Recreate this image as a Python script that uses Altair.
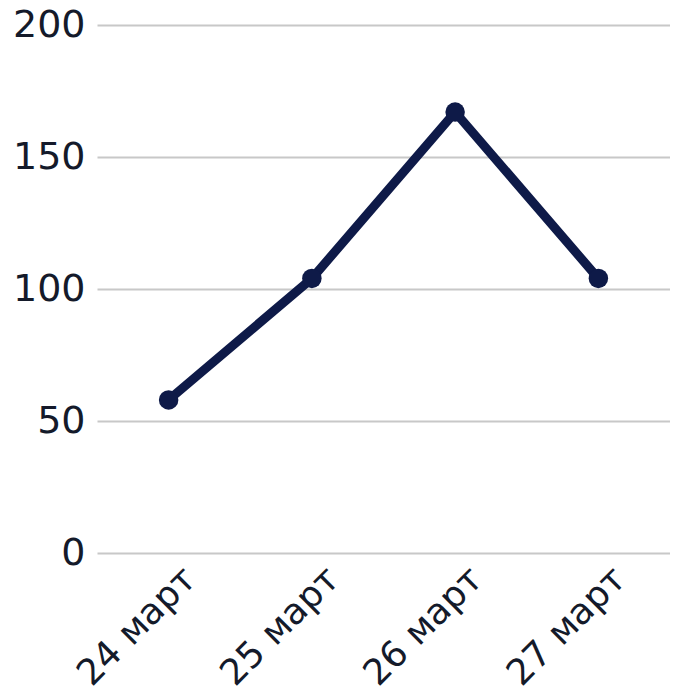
import altair as alt
import pandas as pd

dates = ["24 март", "25 март", "26 март", "27 март"]
values = [58, 104, 167, 104]

df = pd.DataFrame({"date": dates, "value": values})

FONT = "DejaVu Sans"
base = alt.Chart(df).encode(
    x=alt.X("date:N", sort=dates, title=None,
            scale=alt.Scale(paddingOuter=0.5),
            axis=alt.Axis(labelAngle=-45, labelFontSize=36, labelFont=FONT,
                          labelColor="#141a2a", domain=False, ticks=False,
                          grid=False, labelPadding=8, labelOffset=9)),
    y=alt.Y("value:Q", title=None,
            scale=alt.Scale(domain=[0, 200], nice=False),
            axis=alt.Axis(values=[0, 50, 100, 150, 200], labelFontSize=38,
                          labelFont=FONT, labelColor="#141a2a", domain=False,
                          ticks=False, gridColor="#c8c8c8", gridWidth=2,
                          labelPadding=12)),
)

line = base.mark_line(color="#0e1a48", strokeWidth=9)
points = base.mark_circle(color="#0e1a48", size=380, opacity=1)

chart = (line + points).properties(
    width=573, height=528,
    autosize=alt.AutoSizeParams(type="none"),
    padding={"left": 89, "top": 17, "right": 0, "bottom": 139},
).configure_view(stroke=None)

chart.save("out.html", embed_options={"renderer": "svg", "actions": False})
